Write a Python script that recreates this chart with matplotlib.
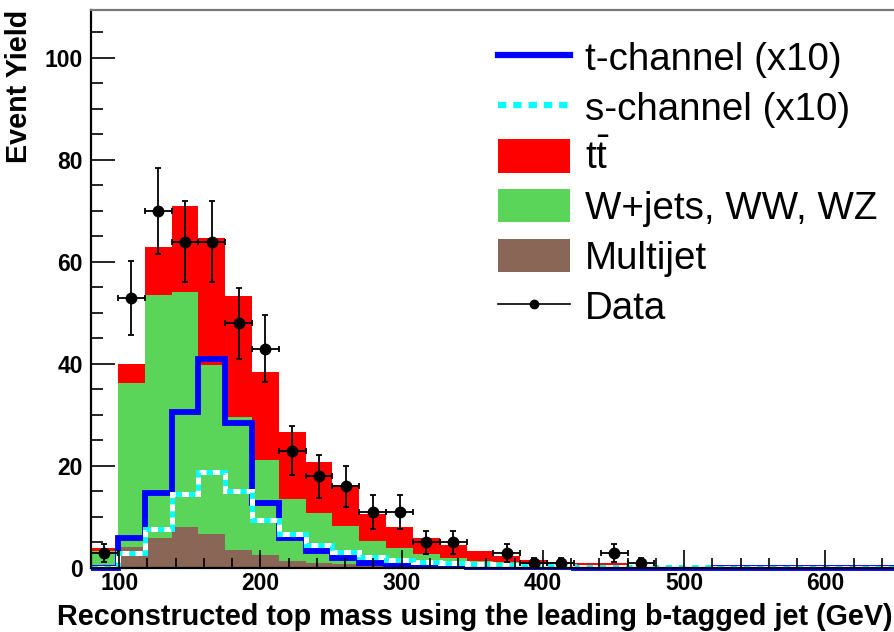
import numpy as np
import matplotlib
matplotlib.use("Agg")
import matplotlib.pyplot as plt  # noqa: E402
from matplotlib.lines import Line2D  # noqa: E402
from matplotlib.patches import Patch  # noqa: E402
from matplotlib.ticker import MultipleLocator  # noqa: E402

# 30 bins of 19 GeV from 80 to 650 GeV
X_LO, X_HI, N_BINS = 80.0, 650.0, 30

# stacked backgrounds (events per bin)
multijet = [0.3, 4.2, 5.9, 8.0, 6.7, 3.5, 2.5, 1.4, 0.9, 0.7,
            0.5, 0.4, 0.3, 0.25, 0.2, 0.15, 0.1, 0.1, 0.05, 0.05,
            0.05, 0.05, 0.05, 0.05, 0.02, 0.02, 0.01, 0.01, 0.01, 0.01]
wjets = [3.1, 32.0, 47.6, 46.2, 33.1, 26.1, 18.7, 12.2, 9.8, 7.5,
         4.7, 3.5, 2.4, 1.75, 1.2, 0.95, 0.7, 0.5, 0.45, 0.35,
         0.25, 0.2, 0.15, 0.1, 0.1, 0.07, 0.05, 0.05, 0.05, 0.02]
ttbar = [0.5, 3.8, 9.4, 16.8, 24.9, 23.7, 17.3, 13.1, 10.1, 8.1,
         5.4, 4.2, 3.1, 2.5, 2.0, 1.3, 0.8, 0.5, 0.5, 0.5,
         0.2, 0.15, 0.1, 0.1, 0.08, 0.06, 0.04, 0.04, 0.04, 0.02]

# single top signal, scaled by 10
tchan_x10 = [0.0, 5.9, 14.7, 30.5, 41.0, 28.4, 12.7, 5.8, 3.4, 2.0,
             1.0, 0.6, 0.4, 0.3, 0.2, 0.15, 0.1, 0.1, 0.08, 0.06,
             0.05, 0.04, 0.03, 0.03, 0.02, 0.02, 0.01, 0.01, 0.01, 0.01]
schan_x10 = [0.0, 2.9, 7.6, 14.5, 18.9, 15.0, 9.4, 6.7, 4.5, 3.2,
             2.2, 1.6, 1.2, 0.9, 0.7, 0.5, 0.4, 0.3, 0.25, 0.2,
             0.15, 0.12, 0.1, 0.08, 0.06, 0.05, 0.04, 0.03, 0.02, 0.02]

data_counts = [3, 53, 70, 64, 64, 48, 43, 23, 18, 16,
               11, 11, 5, 5, 0, 3, 1, 1, 0, 3,
               1, 0, 0, 0, 0, 0, 0, 0, 0, 0]

C_TT = "#ff0000"
C_WJ = "#5ad55a"
C_MJ = "#8a6656"
C_T = "#0000ff"
C_S = "#00ffff"

plt.rcParams["font.family"] = ["Liberation Sans", "DejaVu Sans"]
plt.rcParams["mathtext.fontset"] = "custom"
plt.rcParams["mathtext.rm"] = "Liberation Sans"
plt.rcParams["lines.scale_dashes"] = False

edges = np.linspace(X_LO, X_HI, N_BINS + 1)
centers = 0.5 * (edges[:-1] + edges[1:])
half_w = 0.5 * (edges[1] - edges[0])

mj = np.array(multijet)
wj = mj + np.array(wjets)
tt = wj + np.array(ttbar)

fig = plt.figure(figsize=(8.95, 6.32), dpi=100)
ax = fig.add_axes([91 / 895, 64 / 632, 805 / 895, 558 / 632])

# stack: draw from the top layer down so the lower ones sit in front
ax.stairs(tt, edges, fill=True, color=C_TT, lw=0, zorder=1)
ax.stairs(wj, edges, fill=True, color=C_WJ, lw=0, zorder=1.1)
ax.stairs(mj, edges, fill=True, color=C_MJ, lw=0, zorder=1.2)

ax.stairs(tchan_x10, edges, color=C_T, lw=4.2, zorder=2, clip_on=False)
ax.stairs(schan_x10, edges, color="white", lw=3.6, zorder=2.1)
ax.stairs(schan_x10, edges, color=C_S, lw=3.6, zorder=2.2,
          linestyle=(0, (4.5, 5.0)))

d = np.array(data_counts, dtype=float)
has = d > 0
ax.errorbar(centers[has], d[has], xerr=half_w, yerr=np.sqrt(d[has]),
            fmt="o", color="black", ms=7.5, elinewidth=1.3, capsize=2.5,
            capthick=1.3, zorder=5)

ax.set_xlim(X_LO, X_HI)
ax.set_ylim(0, 109.4)
ax.xaxis.set_major_locator(MultipleLocator(100))
ax.xaxis.set_minor_locator(MultipleLocator(20))
ax.yaxis.set_major_locator(MultipleLocator(20))
ax.yaxis.set_minor_locator(MultipleLocator(5))
ax.set_axisbelow(False)

ax.tick_params(axis="x", which="major", direction="in", length=13, width=1.2,
               labelsize=16.5, pad=3)
ax.tick_params(axis="x", which="minor", direction="in", length=7, width=1.2)
ax.tick_params(axis="y", which="major", direction="in", length=17, width=1.2,
               labelsize=16.5, pad=6)
ax.tick_params(axis="y", which="minor", direction="in", length=8.5, width=1.2)
ax.tick_params(top=False, right=False, which="both")
for lab in ax.get_xticklabels() + ax.get_yticklabels():
    lab.set_fontweight("bold")

for s in ("left", "bottom"):
    ax.spines[s].set_linewidth(1.6)
ax.spines["top"].set_color("#777777")
ax.spines["top"].set_linewidth(1.6)
ax.spines["right"].set_visible(False)

ax.set_xlabel("Reconstructed top mass using the leading b-tagged jet (GeV)",
              fontsize=20.7, fontweight="bold", loc="right")
ax.xaxis.set_label_coords(0.996, -0.062)
ax.set_ylabel("Event Yield", fontsize=20.7, fontweight="bold", loc="top")
ax.yaxis.set_label_coords(-0.072, 1.0)

handles = [
    Line2D([], [], color=C_T, lw=4.5),
    Line2D([], [], color=C_S, lw=4.5, linestyle=(0, (6.0, 5.0))),
    Patch(facecolor=C_TT, edgecolor="none"),
    Patch(facecolor=C_WJ, edgecolor="none"),
    Patch(facecolor=C_MJ, edgecolor="none"),
    Line2D([], [], color="black", lw=1.2, marker="o", ms=6),
]
labels = ["t-channel (x10)", "s-channel (x10)", r"$\mathrm{t\bar{t}}$",
          "W+jets, WW, WZ", "Multijet", "Data"]
fig.legend(handles, labels, loc="upper left",
           bbox_to_anchor=(498 / 895, 1 - 40 / 632),
           frameon=False, fontsize=27.7, handlelength=1.87,
           handleheight=0.95, handletextpad=0.39, labelspacing=0.31,
           borderpad=0, borderaxespad=0)

fig.savefig("out.png", dpi=100)
